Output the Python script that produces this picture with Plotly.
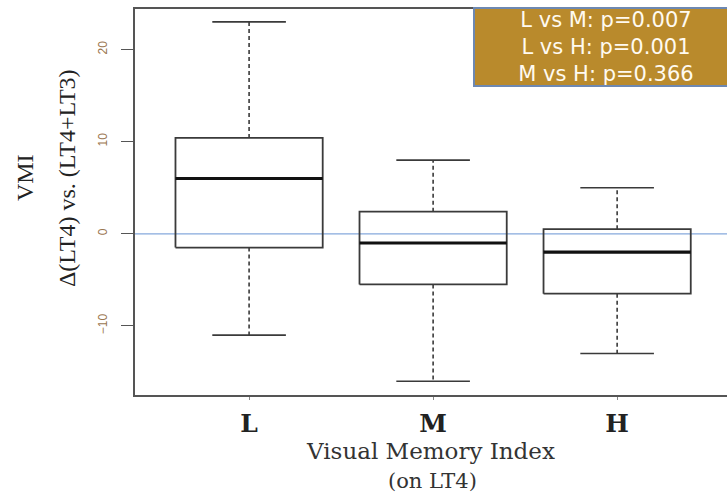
import plotly.graph_objects as go

categories = ["L", "M", "H"]
upper_whisker = [23, 8, 5]
q3 = [10.4, 2.4, 0.5]
median = [6, -1, -2]
q1 = [-1.5, -5.5, -6.5]
lower_whisker = [-11, -16, -13]
pvalue_lines = ["L vs M: p=0.007", "L vs H: p=0.001", "M vs H: p=0.366"]
y_title_lines = ["VMI", "Δ(LT4) vs. (LT4+LT3)"]
x_title_lines = ["Visual Memory Index", "(on LT4)"]

xpos = [i + 1 for i in range(len(categories))]
half_box = 0.4
half_cap = 0.2

box_x, box_y = [], []
med_x, med_y = [], []
whk_x, whk_y = [], []
cap_x, cap_y = [], []
for x, up, a, m, b, lo in zip(xpos, upper_whisker, q3, median, q1, lower_whisker):
    box_x += [x - half_box, x + half_box, x + half_box, x - half_box, x - half_box, None]
    box_y += [b, b, a, a, b, None]
    med_x += [x - half_box, x + half_box, None]
    med_y += [m, m, None]
    whk_x += [x, x, None, x, x, None]
    whk_y += [a, up, None, b, lo, None]
    cap_x += [x - half_cap, x + half_cap, None, x - half_cap, x + half_cap, None]
    cap_y += [up, up, None, lo, lo, None]

fig = go.Figure()
fig.add_hline(y=0, line=dict(color="#86a9dc", width=1.2), layer="below")
fig.add_trace(go.Scatter(x=whk_x, y=whk_y, mode="lines",
                         line=dict(color="#3a3a3a", width=1.6, dash="4px,3px"),
                         hoverinfo="skip", showlegend=False))
fig.add_trace(go.Scatter(x=cap_x, y=cap_y, mode="lines",
                         line=dict(color="#3a3a3a", width=1.6),
                         hoverinfo="skip", showlegend=False))
fig.add_trace(go.Scatter(x=box_x, y=box_y, mode="lines",
                         line=dict(color="#3a3a3a", width=1.8),
                         hoverinfo="skip", showlegend=False))
fig.add_trace(go.Scatter(x=med_x, y=med_y, mode="lines",
                         line=dict(color="#111111", width=3.2),
                         hoverinfo="skip", showlegend=False))

fig.add_annotation(
    xref="paper", yref="paper", x=0.571, y=1.005, xanchor="left", yanchor="top",
    text="<br>".join(pvalue_lines), showarrow=False, align="center",
    font=dict(family="DejaVu Sans, sans-serif", size=21, color="#fffaf0"),
    bgcolor="#b98a2c", bordercolor="#6d88b2", borderwidth=2, borderpad=0,
    width=262, height=76,
)

serif = "Liberation Serif, Times New Roman, serif"
for shift, line in zip([-110, -68], y_title_lines):
    fig.add_annotation(
        xref="paper", yref="paper", x=0, y=0.562, xanchor="center", yanchor="middle",
        xshift=shift, text=line, textangle=-90, showarrow=False,
        font=dict(family=serif, size=24, color="#222222"),
    )

fig.add_annotation(
    xref="paper", yref="paper", x=0.502, y=-0.2228, xanchor="center", yanchor="middle",
    text=x_title_lines[1], showarrow=False,
    font=dict(family="DejaVu Serif, serif", size=21, color="#333333"),
)

fig.update_layout(
    width=727, height=495,
    margin=dict(l=135, r=0, t=9, b=100),
    plot_bgcolor="white", paper_bgcolor="white",
    xaxis=dict(
        range=[0.38, 3.597], tickvals=xpos,
        ticktext=["<b>%s</b>" % c for c in categories],
        tickfont=dict(family="DejaVu Serif, serif", size=25, color="#222222"),
        showline=True, linecolor="#555555", linewidth=2, mirror=True,
        ticks="outside", ticklen=3, tickcolor="#888888",
        ticklabelstandoff=2,
        showgrid=False, zeroline=False,
        title=dict(text=x_title_lines[0],
                   font=dict(family="DejaVu Serif, serif", size=23, color="#333333"),
                   standoff=6),
    ),
    yaxis=dict(
        range=[-17.5, 24.4], tickvals=[-10, 0, 10, 20],
        tickangle=-90,
        tickfont=dict(family="Liberation Sans, Arial, sans-serif", size=12, color="#9a7650"),
        showline=True, linecolor="#555555", linewidth=2, mirror=False,
        ticks="outside", ticklen=12, tickcolor="#555555",
        ticklabelstandoff=9,
        showgrid=False, zeroline=False,
    ),
)

fig.write_html("out.html", config={"displayModeBar": False},
               post_script="document.body.style.margin='0';document.body.style.overflow='hidden';")
